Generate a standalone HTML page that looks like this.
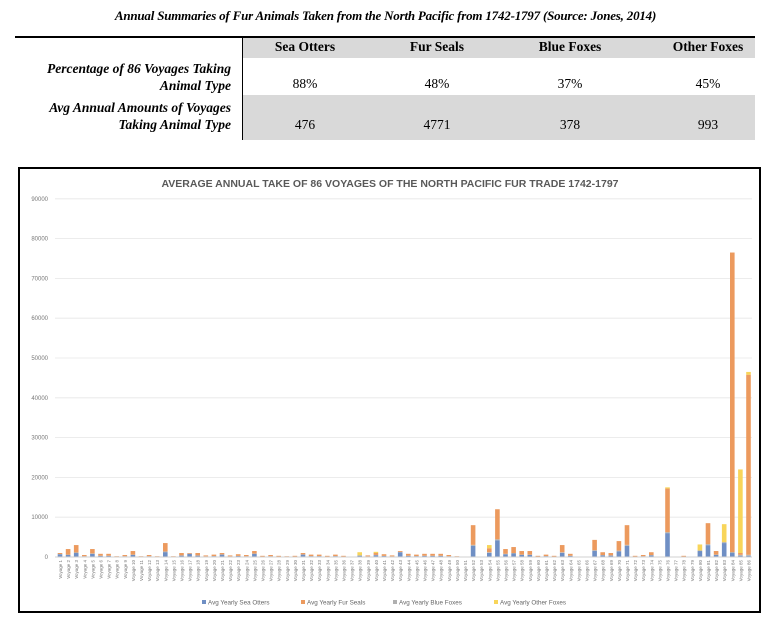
<!DOCTYPE html>
<html><head><meta charset="utf-8"><style>
body{margin:0;width:771px;height:623px;background:#fff;position:relative;overflow:hidden;font-family:"Liberation Serif",serif}
.a{position:absolute}
.t{font-weight:bold;font-style:italic;font-size:13px;left:0;width:771px;text-align:center;top:8px;letter-spacing:-0.2px}
.h{font-weight:bold;font-size:13.5px;text-align:center;width:130px}
.v{font-size:13.5px;text-align:center;width:130px}
.r{font-weight:bold;font-style:italic;font-size:13.5px;text-align:right;width:215px;line-height:17px}
</style></head><body>
<div class="a t">Annual Summaries of Fur Animals Taken from the North Pacific from 1742-1797 (Source: Jones, 2014)</div>
<div class="a" style="left:15px;top:36px;width:740px;height:2px;background:#000"></div>
<div class="a" style="left:243px;top:38px;width:512px;height:20px;background:#d9d9d9"></div>
<div class="a" style="left:243px;top:95px;width:512px;height:45px;background:#d9d9d9"></div>
<div class="a" style="left:242px;top:36px;width:1px;height:104px;background:#000"></div>
<div class="a h" style="left:240px;top:39px">Sea Otters</div>
<div class="a h" style="left:372px;top:39px">Fur Seals</div>
<div class="a h" style="left:505px;top:39px">Blue Foxes</div>
<div class="a h" style="left:643px;top:39px">Other Foxes</div>
<div class="a r" style="left:16px;top:60px">Percentage of 86 Voyages Taking<br>Animal Type</div>
<div class="a r" style="left:16px;top:99px">Avg Annual Amounts of Voyages<br>Taking Animal Type</div>
<div class="a v" style="left:240px;top:76px">88%</div>
<div class="a v" style="left:372px;top:76px">48%</div>
<div class="a v" style="left:505px;top:76px">37%</div>
<div class="a v" style="left:643px;top:76px">45%</div>
<div class="a v" style="left:240px;top:117px">476</div>
<div class="a v" style="left:372px;top:117px">4771</div>
<div class="a v" style="left:505px;top:117px">378</div>
<div class="a v" style="left:643px;top:117px">993</div>
<svg class="a" style="left:0;top:0" width="771" height="623" id="s"></svg>
<script>
var s=document.getElementById('s'),o='';
o+='<rect x="19" y="168" width="741" height="444" fill="#fff" stroke="#000" stroke-width="2"/>';
o+='<text x="390" y="187" font-family="Liberation Sans" font-size="10.5" font-weight="bold" fill="#595959" text-anchor="middle">AVERAGE ANNUAL TAKE OF 86 VOYAGES OF THE NORTH PACIFIC FUR TRADE 1742-1797</text>';
var y0=557,k=3.98/1000;
for(var i=0;i<=9;i++){var y=y0-i*10000*k;o+='<line x1="55" x2="752" y1="'+y+'" y2="'+y+'" stroke="#e6e6e6" stroke-width="0.8"/><text x="48" y="'+(y+2)+'" font-family="Liberation Sans" font-size="6" fill="#777" text-anchor="end">'+(i*10000)+'</text>';}
var T=[1000,2000,3000,500,2000,800,800,200,500,1500,200,500,200,3500,200,1000,1000,1000,400,600,1000,400,700,500,1500,300,500,300,200,300,1000,600,600,300,600,300,100,1000,400,1300,700,400,1500,800,600,800,800,800,500,200,100,8000,100,3000,12000,2000,2500,1500,1500,300,600,300,3000,800,100,100,4300,1200,1000,4000,8000,300,500,1200,100,17500,100,300,100,3000,8500,1500,8000,76500,22000,46500];
var B={1:700,2:500,3:1000,5:800,17:800,21:600,25:800,31:600,43:1200,76:6000,80:1500,83:3500,84:1000,85:300,86:300};
var Y={38:800,54:800,80:1500,83:4500,85:21000,86:700,76:300,40:300};
for(var i=0;i<86;i++){var n=i+1,x=60+i*8.1-2.3,t=T[i],b=B[n]||Math.round(t*0.35),yy=Y[n]||0,g=Math.min(t*0.05,250),or=t-b-yy-g;if(or<0)or=0;
var segs=[[b,'#6f8fc4'],[g,'#b0b0b0'],[or,'#ec9a5e'],[yy,'#f8d55a']];var cy=y0;
segs.forEach(function(q){var h=q[0]*k;if(h>0){cy-=h;o+='<rect x="'+x+'" y="'+cy+'" width="4.6" height="'+h+'" fill="'+q[1]+'"/>';}});
o+='<text transform="translate('+(x+4.3)+',560) rotate(-90)" font-family="Liberation Sans" font-size="4.5" fill="#777" text-anchor="end">Voyage '+n+'</text>';}
o+='<line x1="55" x2="752" y1="557" y2="557" stroke="#d0d0d0"/>';
var L=[['Avg Yearly Sea Otters','#6f8fc4',202],['Avg Yearly Fur Seals','#ec9a5e',301],['Avg Yearly Blue Foxes','#b0b0b0',393],['Avg Yearly Other Foxes','#f8d55a',494]];
L.forEach(function(l){o+='<rect x="'+l[2]+'" y="600" width="4" height="4" fill="'+l[1]+'"/><text x="'+(l[2]+6)+'" y="604.5" font-family="Liberation Sans" font-size="6.3" fill="#666">'+l[0]+'</text>';});
s.innerHTML=o;
</script>
</body></html>
